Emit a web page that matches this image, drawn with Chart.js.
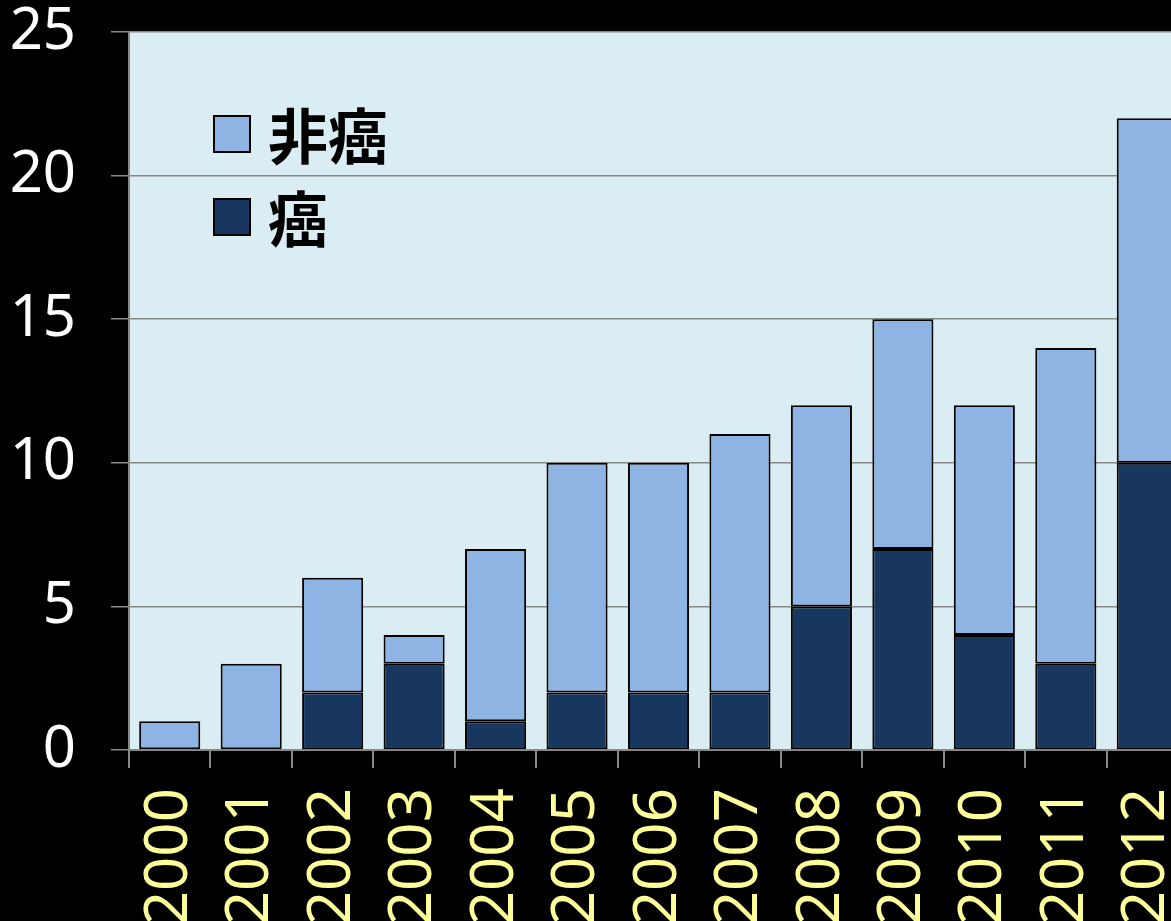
<!DOCTYPE html>
<html>
<head>
<meta charset="utf-8">
<script src="https://cdn.jsdelivr.net/npm/chart.js@4.4.1/dist/chart.umd.min.js"></script>
<style>
  html, body { margin: 0; padding: 0; background: #000; overflow: hidden; }
  #wrap { width: 1188px; height: 921px; }
</style>
</head>
<body>
<div id="wrap"><canvas id="chart" width="1188" height="921"></canvas></div>
<script>
// 年ごとの件数
const years = ['2000', '2001', '2002', '2003', '2004', '2005', '2006', '2007', '2008', '2009', '2010', '2011', '2012'];
const cancer = [0, 0, 2, 3, 1, 2, 2, 2, 5, 7, 4, 3, 10];
const nonCancer = [1, 3, 4, 1, 6, 8, 8, 9, 7, 8, 8, 11, 12];
const yTicks = [0, 5, 10, 15, 20, 25];

const COLOR_CANCER = '#17375E';
const COLOR_NON = '#8EB4E3';

// プロット領域の背景
const plotBg = {
    id: 'plotBg',
    beforeDraw(chart) {
        const a = chart.chartArea;
        const ctx = chart.ctx;
        ctx.save();
        ctx.fillStyle = '#DAEDF3';
        ctx.fillRect(a.left, a.top, a.right - a.left, a.bottom - a.top);
        ctx.restore();
    }
};

// 凡例はプロット内の左上に描く
const innerLegend = {
    id: 'innerLegend',
    afterDraw(chart) {
        const ctx = chart.ctx;
        const items = [chart.data.datasets[1], chart.data.datasets[0]];
        ctx.save();
        items.forEach(function(ds, i) {
            let cy = 134 + i * 83;
            ctx.fillStyle = ds.backgroundColor;
            ctx.fillRect(214, cy - 18, 36, 36);
            ctx.lineWidth = 2;
            ctx.strokeStyle = '#000';
            ctx.strokeRect(214, cy - 18, 36, 36);
            ctx.fillStyle = '#000';
            ctx.font = 'bold 60px "Noto Sans CJK JP"';
            ctx.textBaseline = 'middle';
            ctx.textAlign = 'left';
            ctx.fillText(ds.label, 268, cy + 2);
        });
        ctx.restore();
    }
};

new Chart(document.getElementById('chart'), {
    type: 'bar',
    data: {
        labels: years,
        datasets: [
            {
                label: '癌',
                data: cancer,
                backgroundColor: COLOR_CANCER,
                borderColor: '#000',
                borderWidth: 2,
                borderSkipped: false
            },
            {
                label: '非癌',
                data: nonCancer,
                backgroundColor: COLOR_NON,
                borderColor: '#000',
                borderWidth: 2,
                borderSkipped: false
            }
        ]
    },
    options: {
        responsive: false,
        animation: false,
        layout: { padding: { top: 32, right: 0, left: 0, bottom: 0 } },
        datasets: { bar: { categoryPercentage: 1, barPercentage: 0.75 } },
        plugins: { legend: { display: false }, tooltip: { enabled: false } },
        scales: {
            x: {
                stacked: true,
                offset: true,
                afterFit(scale) {
                    scale.height = 171;
                    scale.paddingLeft = 0;
                    scale.paddingRight = 0;
                },
                grid: { drawOnChartArea: false, drawTicks: true, tickLength: 18, color: '#888', lineWidth: 2, offset: true },
                border: { color: '#888', width: 2 },
                ticks: {
                    color: '#FFFF99',
                    font: { family: '"Noto Sans"', size: 60 },
                    minRotation: 90,
                    maxRotation: 90,
                    autoSkip: false,
                    padding: 20
                }
            },
            y: {
                stacked: true,
                min: 0,
                max: 25,
                afterFit(scale) {
                    scale.width = 129;
                    scale.paddingTop = 0;
                    scale.paddingBottom = 0;
                },
                afterBuildTicks(scale) { scale.ticks = yTicks.map(v => ({ value: v })); },
                grid: { color: '#888', lineWidth: 1.5, tickLength: 18 },
                border: { color: '#888', width: 2 },
                ticks: {
                    color: '#fff',
                    font: { family: '"Noto Sans"', size: 58 },
                    padding: 35
                }
            }
        }
    },
    plugins: [plotBg, innerLegend]
});
</script>
</body>
</html>
